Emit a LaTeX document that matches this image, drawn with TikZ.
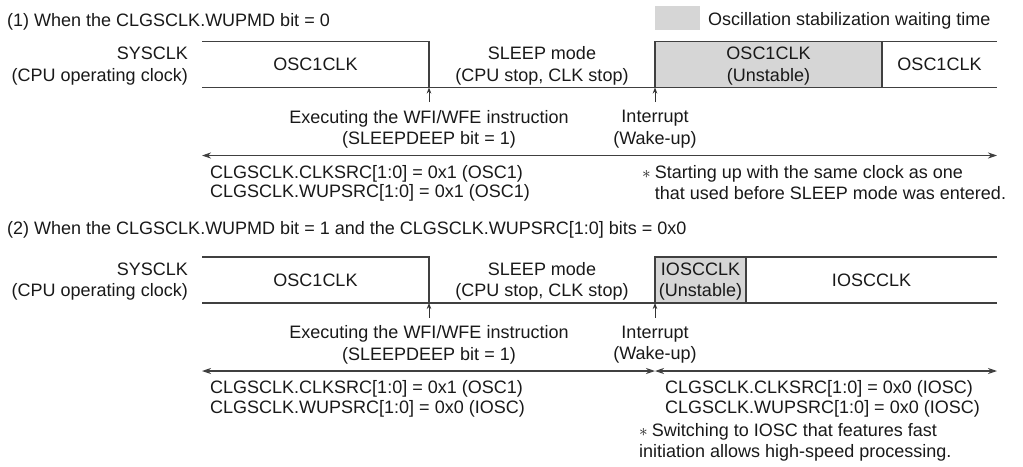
\documentclass[tikz,border=0pt]{standalone}
\usepackage{fontspec}
\setmainfont{Liberation Sans}
\usetikzlibrary{arrows.meta}

\begin{document}
\begin{tikzpicture}[x=1pt, y=-1pt,
  txt/.style={font=\fontsize{18}{21.5}\selectfont, text=black!90, inner sep=0pt, align=center},
  note/.style={txt, align=left, font=\fontsize{18}{19.5}\selectfont},
  tline/.style={draw=black!75, line width=1.1pt},
  wait/.style={fill=black!16},
  arr/.style={-{Stealth[length=6pt,width=4.5pt]}, draw=black!80, line width=0.8pt},
  spanarr/.style={{Stealth[length=9pt,width=6pt]}-{Stealth[length=9pt,width=6pt]}, draw=black!75, line width=1.1pt}
]
  \useasboundingbox (0,0) rectangle (1023,466);

  % Legend
  \node[wait, minimum width=45pt, minimum height=24pt, inner sep=0pt] (key) at (677.5,18) {};
  \node[txt, anchor=base west] (keytxt) at (708,25.5) {Oscillation stabilization waiting time};

  % (1) WUPMD bit = 0
  \node[txt, anchor=base west] (title1) at (7,26) {(1) When the CLGSCLK.WUPMD bit = 0};
  \node[txt, align=right, anchor=east] (sys1) at (188,66) {SYSCLK\\(CPU operating clock)};

  \fill[wait] (655,41.5) rectangle (882,87.5);
  \draw[tline] (202,41.5) -- (429,41.5) -- (429,87.5);
  \draw[tline] (202,87.5) -- (997,87.5);
  \draw[tline] (655,87.5) -- (655,41.5) -- (997,41.5);
  \draw[tline] (882,41.5) -- (882,87.5);

  \node[txt] (osc1a) at (315.5,64.5) {OSC1CLK};
  \node[txt] (sleep1) at (542,66) {SLEEP mode\\(CPU stop, CLK stop)};
  \node[txt] (unst1) at (768.5,66) {OSC1CLK\\(Unstable)};
  \node[txt] (osc1b) at (939.5,64.5) {OSC1CLK};

  \coordinate (wfi1) at (429,87.5);
  \coordinate (irq1) at (655,87.5);
  \node[txt, anchor=north] (exec1) at (429,110) {Executing the WFI/WFE instruction\\(SLEEPDEEP bit = 1)};
  \node[txt, anchor=north] (wake1) at (655,110) {Interrupt\\(Wake-up)};
  \draw[arr] ([yshift=8pt]exec1.north) -- (wfi1);
  \draw[arr] ([yshift=8pt]wake1.north) -- (irq1);

  \coordinate (s1l) at (202,155.5);
  \coordinate (s1r) at (997,155.5);
  \draw[spanarr] (s1l) -- (s1r);

  \node[note, anchor=north west] (src1) at (210,165) {CLGSCLK.CLKSRC[1:0] = 0x1 (OSC1)\\CLGSCLK.WUPSRC[1:0] = 0x1 (OSC1)};
  \node[txt, anchor=north west] (star1) at (642,163) {\begin{tabular}{@{}l@{\hspace{4pt}}l@{}}
    $\ast$ & Starting up with the same clock as one\\
           & that used before SLEEP mode was entered.\end{tabular}};

  % (2) WUPMD bit = 1, WUPSRC = 0x0
  \node[txt, anchor=base west] (title2) at (7,234.5) {(2) When the CLGSCLK.WUPMD bit = 1 and the CLGSCLK.WUPSRC[1:0] bits = 0x0};
  \node[txt, align=right, anchor=east] (sys2) at (188,281.5) {SYSCLK\\(CPU operating clock)};

  \fill[wait] (655,257) rectangle (746,303);
  \draw[tline] (202,257) -- (429,257) -- (429,303);
  \draw[tline] (202,303) -- (997,303);
  \draw[tline] (655,303) -- (655,257) -- (997,257);
  \draw[tline] (746,257) -- (746,303);

  \node[txt] (osc2) at (315.5,280) {OSC1CLK};
  \node[txt] (sleep2) at (542,281.5) {SLEEP mode\\(CPU stop, CLK stop)};
  \node[txt] (unst2) at (700.5,281.5) {IOSCCLK\\(Unstable)};
  \node[txt] (iosc2) at (871.5,280) {IOSCCLK};

  \coordinate (wfi2) at (429,303);
  \coordinate (irq2) at (655,303);
  \node[txt, anchor=north] (exec2) at (429,325.5) {Executing the WFI/WFE instruction\\(SLEEPDEEP bit = 1)};
  \node[txt, anchor=north] (wake2) at (655,325.5) {Interrupt\\(Wake-up)};
  \draw[arr] ([yshift=8pt]exec2.north) -- (wfi2);
  \draw[arr] ([yshift=8pt]wake2.north) -- (irq2);

  \coordinate (s2l) at (202,371);
  \coordinate (s2m) at (655,371);
  \coordinate (s2r) at (997,371);
  \draw[spanarr] (s2l) -- (s2m);
  \draw[spanarr] (s2m) -- (s2r);

  \node[note, anchor=north west] (src2) at (210,380.5) {CLGSCLK.CLKSRC[1:0] = 0x1 (OSC1)\\CLGSCLK.WUPSRC[1:0] = 0x0 (IOSC)};
  \node[note, anchor=north west] (src3) at (665,380.5) {CLGSCLK.CLKSRC[1:0] = 0x0 (IOSC)\\CLGSCLK.WUPSRC[1:0] = 0x0 (IOSC)};
  \node[txt, align=left, anchor=north west] (star2) at (639,423) {$\ast$\hspace{4pt}Switching to IOSC that features fast\\initiation allows high-speed processing.};
\end{tikzpicture}
\end{document}
